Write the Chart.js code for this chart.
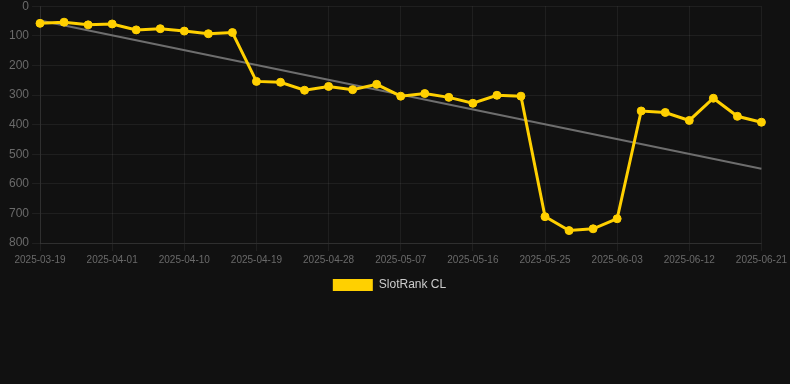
<!DOCTYPE html>
<html>
<head>
<meta charset="utf-8">
<script src="https://cdn.jsdelivr.net/npm/chart.js@4/dist/chart.umd.min.js"></script>
<style>
  html, body { margin: 0; padding: 0; background: #111111; overflow: hidden; }
  #wrap { width: 790px; height: 305px; position: relative; margin-top: -4px; }
</style>
</head>
<body>
<div id="wrap"><canvas id="rankChart"></canvas></div>
<script>
const fechas = [
  '2025-03-19', '2025-03-23', '2025-03-27', '2025-04-01', '2025-04-04', '2025-04-07',
  '2025-04-10', '2025-04-13', '2025-04-16', '2025-04-19', '2025-04-22', '2025-04-25',
  '2025-04-28', '2025-05-01', '2025-05-04', '2025-05-07', '2025-05-10', '2025-05-13',
  '2025-05-16', '2025-05-19', '2025-05-22', '2025-05-25', '2025-05-28', '2025-05-31',
  '2025-06-03', '2025-06-06', '2025-06-09', '2025-06-12', '2025-06-15', '2025-06-18',
  '2025-06-21'
];

const ranking = [
  58, 54, 63, 60, 80, 76, 84, 93, 89, 254, 257, 284, 271, 282, 264, 304,
  295, 308, 328, 301, 304, 711, 758, 752, 718, 354, 359, 386, 311, 372, 392
];

// linea de tendencia: solo los extremos, el resto se une con spanGaps
const tendencia = fechas.map(() => null);
tendencia[0] = 48;
tendencia[fechas.length - 1] = 549;

const yTicks = [0, 100, 200, 300, 400, 500, 600, 700, 800];

Chart.defaults.font.family = '"Liberation Sans", Arial, sans-serif';

const ctx = document.getElementById('rankChart');

new Chart(ctx, {
  type: 'line',
  data: {
    labels: fechas,
    datasets: [
      {
        label: 'SlotRank CL',
        data: ranking,
        borderColor: '#FFD000',
        backgroundColor: '#FFD000',
        borderWidth: 3,
        pointRadius: 4,
        pointBorderWidth: 1,
        pointHoverRadius: 5,
        pointBackgroundColor: '#FFD000',
        pointBorderColor: '#FFD000',
        tension: 0
      },
      {
        label: 'Tendencia',
        data: tendencia,
        borderColor: '#6e6e6e',
        borderWidth: 2,
        pointRadius: 0,
        spanGaps: true,
        tension: 0
      }
    ]
  },
  options: {
    responsive: true,
    maintainAspectRatio: false,
    animation: false,
    layout: { padding: { left: 6, right: 17 } },
    scales: {
      x: {
        grid: { color: 'rgba(255,255,255,0.06)' },
        border: { color: 'rgba(255,255,255,0.08)' },
        ticks: {
          color: '#6a6a6a',
          font: { size: 10 },
          maxRotation: 0,
          autoSkip: true,
          callback: function (val, i) { return i % 3 === 0 ? fechas[i] : null; }
        }
      },
      y: {
        reverse: true,
        min: yTicks[0],
        max: yTicks[yTicks.length - 1],
        grid: { color: 'rgba(255,255,255,0.06)' },
        border: { color: 'rgba(255,255,255,0.08)' },
        ticks: {
          color: '#6a6a6a',
          font: { size: 12 },
          stepSize: 100
        },
        afterBuildTicks: (axis) => { axis.ticks = yTicks.map(v => ({ value: v })); }
      }
    },
    plugins: {
      legend: {
        position: 'bottom',
        labels: {
          color: '#cccccc',
          font: { size: 12 },
          boxWidth: 40,
          boxHeight: 12,
          filter: (item) => item.datasetIndex === 0,
          generateLabels: (chart) => Chart.defaults.plugins.legend.labels.generateLabels(chart)
            .map((item) => Object.assign(item, { lineWidth: 0 }))
        }
      },
      tooltip: { enabled: false }
    }
  }
});
</script>
</body>
</html>
